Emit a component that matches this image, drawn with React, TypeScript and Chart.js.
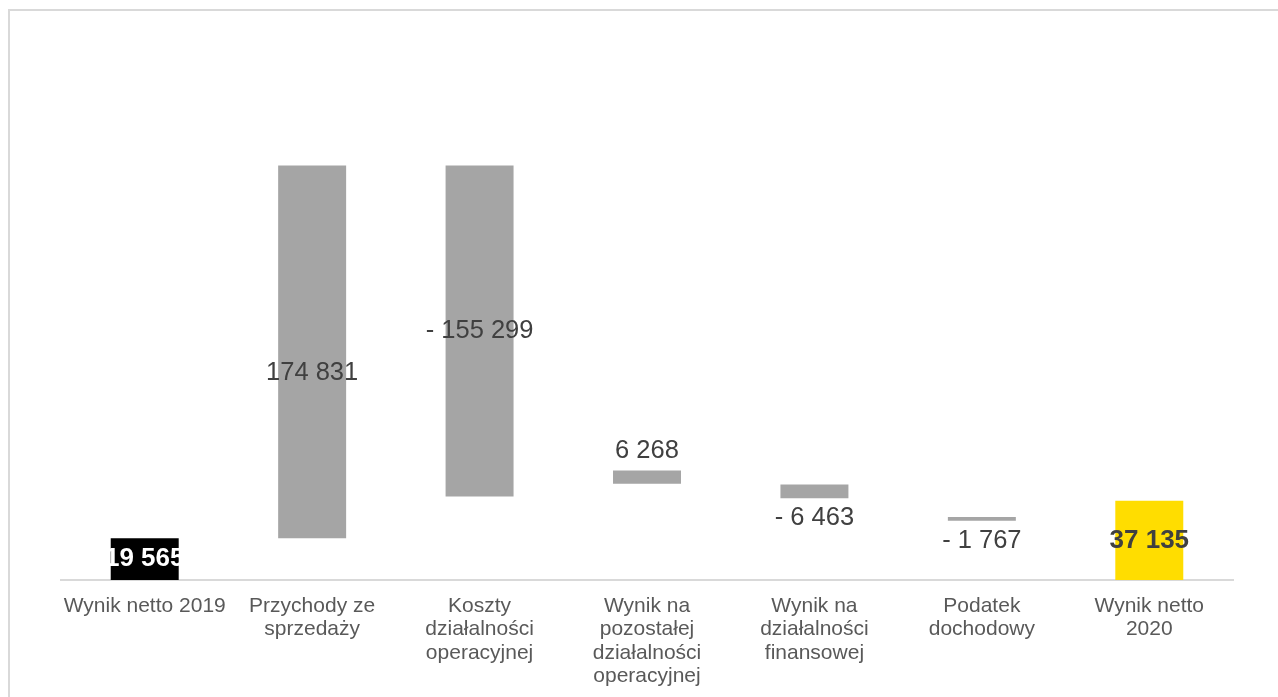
import React, { useEffect, useRef } from "react";
import { Chart, registerables } from "chart.js";

Chart.register(...registerables);

const categories: string[][] = [
  ["Wynik netto 2019"],
  ["Przychody ze", "sprzedaży"],
  ["Koszty", "działalności", "operacyjnej"],
  ["Wynik na", "pozostałej", "działalności", "operacyjnej"],
  ["Wynik na", "działalności", "finansowej"],
  ["Podatek", "dochodowy"],
  ["Wynik netto", "2020"],
];

// displayed amounts
const amounts = [19565, 174831, -155299, 6268, -6463, -1767, 37135];
// visible starting level of each floating bar
const barBase = [0, 19565, 194396, 45100, 44813, 29567, 0];

const barColors = ["#000000", "#a5a5a5", "#a5a5a5", "#a5a5a5", "#a5a5a5", "#a5a5a5", "#ffdd00"];
const labelPlacement = ["center", "stack", "center", "above", "below", "below", "center"];
const labelColors = ["#ffffff", "#404040", "#404040", "#404040", "#404040", "#404040", "#404040"];
const labelBold = [true, false, false, false, false, false, true];

const FONT = '"Liberation Sans", Arial, Helvetica, sans-serif';

function fmt(v: number): string {
  const s = Math.abs(v)
    .toString()
    .replace(/\B(?=(\d{3})+(?!\d))/g, " ");
  return v < 0 ? "- " + s : s;
}

const valueLabels = {
  id: "valueLabels",
  afterDatasetsDraw(chart: any) {
    const ctx = chart.ctx;
    const meta = chart.getDatasetMeta(0);
    const zeroY = chart.scales.y.getPixelForValue(0);
    meta.data.forEach((bar: any, i: number) => {
      const { x, y, base } = bar.getProps(["x", "y", "base"], true);
      const top = Math.min(y, base);
      const bottom = Math.max(y, base);
      let ty = (top + bottom) / 2;
      const mode = labelPlacement[i];
      if (mode === "stack") ty = (top + zeroY) / 2;
      else if (mode === "above") ty = top - 19;
      else if (mode === "below") ty = bottom + 20;
      ctx.save();
      ctx.font = `${labelBold[i] ? "bold " : ""}${labelBold[i] ? 26 : 25.5}px ${FONT}`;
      ctx.fillStyle = labelColors[i];
      ctx.textAlign = "center";
      ctx.textBaseline = "middle";
      ctx.fillText(fmt(amounts[i]), x, ty);
      ctx.restore();
    });
  },
};

export default function App() {
  const canvasRef = useRef<HTMLCanvasElement | null>(null);

  useEffect(() => {
    if (!canvasRef.current) return;
    const chart = new Chart(canvasRef.current, {
      type: "bar",
      data: {
        labels: categories,
        datasets: [
          {
            data: amounts.map((a, i) => [barBase[i], barBase[i] + a]) as any,
            backgroundColor: barColors,
            borderWidth: 0,
            barPercentage: 0.406,
            categoryPercentage: 1,
          },
        ],
      },
      options: {
        animation: false,
        responsive: false,
        devicePixelRatio: 1,
        layout: { padding: { left: 61, right: 45, top: 50, bottom: 10.6 } },
        plugins: {
          legend: { display: false },
          tooltip: { enabled: false },
        },
        scales: {
          x: {
            grid: { display: false, drawTicks: false },
            border: { display: true, color: "#d9d9d9", width: 2 },
            ticks: {
              color: "#595959",
              font: { family: FONT, size: 21, lineHeight: 1.1 },
              padding: 15,
              autoSkip: false,
              maxRotation: 0,
              minRotation: 0,
            },
          },
          y: { display: false, min: 0, max: 248500 },
        },
      },
      plugins: [valueLabels],
    });
    return () => chart.destroy();
  }, []);

  return (
    <div
      style={{
        position: "fixed",
        left: 0,
        top: 0,
        width: 1278,
        height: 697,
        overflow: "hidden",
        background: "#ffffff",
      }}
    >
      <div
        style={{
          position: "absolute",
          left: 8,
          top: 9,
          width: 1400,
          height: 800,
          border: "2px solid #d9d9d9",
          boxSizing: "border-box",
        }}
      />
      <canvas
        ref={canvasRef}
        width={1278}
        height={713}
        style={{ position: "absolute", left: 0, top: 0, width: 1278, height: 713 }}
      />
    </div>
  );
}
